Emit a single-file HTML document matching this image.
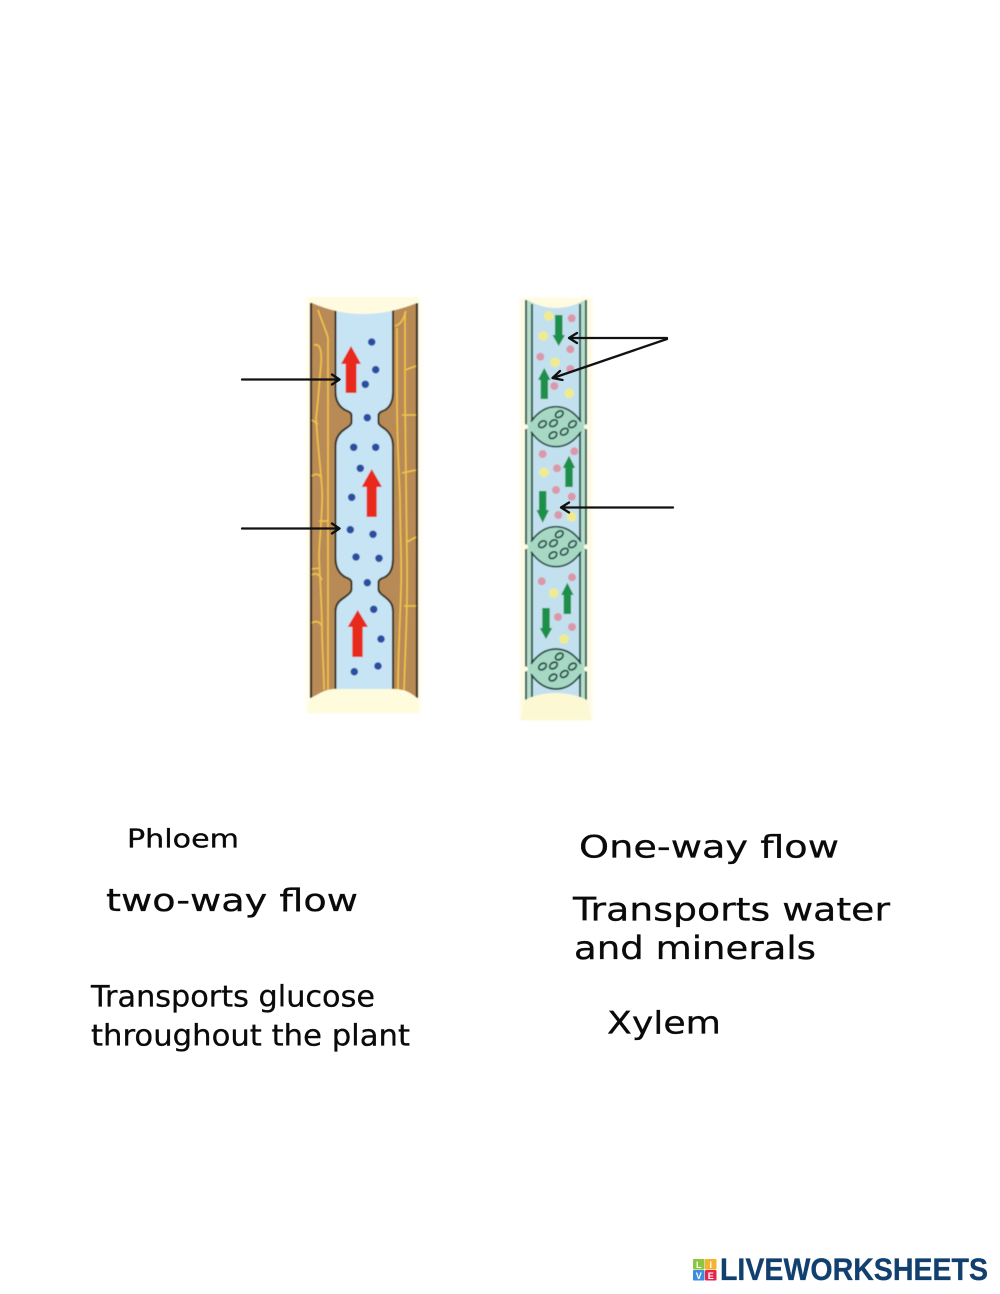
<!DOCTYPE html>
<html><head><meta charset="utf-8"><style>
html,body{margin:0;padding:0;background:#fff}
svg{display:block}
text{font-family:"DejaVu Sans","Liberation Sans",sans-serif;fill:#0a0a0a}
.l{stroke:#0a0a0a;stroke-width:.3px}
</style></head><body>
<svg width="1000" height="1294" viewBox="0 0 1000 1294" xmlns="http://www.w3.org/2000/svg">
<defs>
<filter id="b" x="-5%" y="-5%" width="110%" height="110%"><feGaussianBlur stdDeviation="0.45"/></filter>
<filter id="c" x="-10%" y="-10%" width="120%" height="120%"><feGaussianBlur stdDeviation="1.2"/></filter>
</defs>
<rect width="1000" height="1294" fill="#fff"/>

<!-- PHLOEM -->
<g filter="url(#b)">
<rect x="306" y="298" width="115" height="415" fill="#fffde9" filter="url(#c)"/>
<rect x="311" y="302" width="106" height="396" fill="#b88a55"/>
<path d="M335.500 306 V392 C335.500 402 340 407 345 410 C350 412 351.500 413 351.500 416 V422 C351.500 425 349 426 345 429 C339 433 335.500 438 335.500 446 V558 C335.500 569 340 574 345 577 C350 579 351.500 580 351.500 583 V589 C351.500 592 349 594 345 597 C339 601 335.500 604 335.500 612 V692 H393 V612 C393 604 390 601 385 597 C381 594 378.500 592 378.500 589 V583 C378.500 580 380 579 385 577 C390 574 393 569 393 558 V446 C393 438 390 433 385 429 C381 426 378.500 425 378.500 422 V416 C378.500 413 380 412 385 410 C390 407 393 402 393 392 V306 Z" fill="#c7e4f4" stroke="#2e2a22" stroke-width="2"/>
<path d="M311 303 V698 M417 303 V698" stroke="#33261a" stroke-width="2.200" fill="none"/>
<g fill="none" stroke="#f2c44c" stroke-width="1.600">
<path d="M314 345 C320 343 322 350 321 365 C319 385 318 405 316 418 C318 450 321 470 322 490 C323 510 320 530 319 555 C320 580 322 610 322 630 C322 650 324 670 324 690"/>
<path d="M318 310 C322 322 326 330 328 338 V690"/>
<path d="M312 420 L318 424 M312 476 C316 473 319 474 322 478 M312 575 C316 572 320 575 322 580"/>
<path d="M319 521 H328 M312 569 L320 568 M312 623 C316 620 320 622 322 626"/>
<path d="M397 328 V400 C397 440 399 470 400 500 C400 530 402 560 401 590 C400 620 398 660 398 690"/>
<path d="M405 312 V400 C406 440 406 500 407 560 C408 610 405 650 404 692"/>
<path d="M395 326 C401 325 404 318 406 311 M405 370 L416 366 M402 415 H416 M402 473 L416 470 M407 542 L416 537 M404 606 H416"/>
</g>
<path d="M312 303 Q362 325 417 303 L418 297 H306 Z" fill="#fffbe0"/>
<path d="M311 698 C322 692 326 689 336 689 H393 C404 689 410 692 417 698 L419 713 H307 Z" fill="#fffbdd"/>
<g fill="#2a4ea2">
<circle cx="371.700" cy="342" r="3.800"/><circle cx="375.700" cy="369.700" r="3.800"/><circle cx="365.300" cy="384.300" r="3.800"/><circle cx="367.300" cy="417.700" r="3.800"/><circle cx="353.700" cy="447.300" r="3.800"/><circle cx="375.700" cy="447.300" r="3.800"/><circle cx="360.300" cy="468.300" r="3.800"/><circle cx="351.700" cy="497.300" r="3.800"/><circle cx="350.300" cy="529.700" r="3.800"/><circle cx="373" cy="534.300" r="3.800"/><circle cx="356" cy="557" r="3.800"/><circle cx="379" cy="558.300" r="3.800"/><circle cx="367.300" cy="582.700" r="3.800"/><circle cx="373.700" cy="609.300" r="3.800"/><circle cx="381" cy="639" r="3.800"/><circle cx="378" cy="666" r="3.800"/><circle cx="354.300" cy="671.700" r="3.800"/>
</g>
<g fill="#e8291f">
<path d="M351 346 L361 364 H356.500 V393 H345.700 V364 H341 Z"/>
<path d="M371.700 469 L382 487 H376.700 V517 H366.700 V487 H361.700 Z"/>
<path d="M357.700 610 L368 627 H362.700 V657 H352.300 V627 H347.700 Z"/>
</g>
</g>

<!-- XYLEM -->
<g filter="url(#b)">
<rect x="520" y="298" width="72" height="422" fill="#fdfbe3" filter="url(#c)"/>
<rect x="526" y="300" width="60" height="402" fill="#b6dccb"/>
<rect x="532" y="304" width="48" height="396" fill="#c3e0ee"/>
<path d="M526 300 V702 M586 300 V702 M532 304 V700 M580 304 V700" stroke="#21594f" stroke-width="2" fill="none"/>
<path d="M527 300 Q556 316 585 300 L587 298 H522 Z" fill="#fffbe0"/>
<path d="M525 700 C535 695 545 693 556 693 C566 693 577 695 587 700 L592 720 H520 Z" fill="#fdf8d4"/>
<g fill="#f1eb90">
<circle cx="548.700" cy="316" r="4.800"/><circle cx="543.300" cy="336" r="4.800"/><circle cx="555" cy="362.300" r="4.800"/><circle cx="569.300" cy="393.300" r="4.800"/><circle cx="544" cy="472.300" r="4.800"/><circle cx="571.700" cy="516.700" r="4.800"/><circle cx="553.700" cy="593" r="4.800"/><circle cx="564" cy="639" r="4.800"/>
</g>
<g fill="#dc98ab">
<circle cx="571.700" cy="318.300" r="4"/><circle cx="570.300" cy="349.300" r="4"/><circle cx="540.300" cy="356.700" r="4"/><circle cx="570.300" cy="369" r="4"/><circle cx="554.300" cy="386" r="4"/><circle cx="542.700" cy="454" r="4"/><circle cx="574.300" cy="451.300" r="4"/><circle cx="557" cy="468.300" r="4"/><circle cx="556" cy="490" r="4"/><circle cx="571.700" cy="496.700" r="4"/><circle cx="558.300" cy="515" r="4"/><circle cx="541.700" cy="581.300" r="4"/><circle cx="572" cy="577.300" r="4"/><circle cx="558" cy="617" r="4"/><circle cx="572" cy="627" r="4"/>
</g>
<g fill="#1d8f4a">
<path d="M555 315 H562.500 V335 H565 L558.700 346 L552.500 335 H555 Z"/>
<path d="M544.300 368 L550.500 380 H548 V399 H540.700 V380 H538 Z"/>
<path d="M569 455.700 L575.200 468 H572.700 V487 H565.300 V468 H562.800 Z"/>
<path d="M539 491 H546.300 V510 H549 L542.700 522.700 L536.500 510 H539 Z"/>
<path d="M567.300 582.700 L573.500 595 H571 V614 H563.700 V595 H561.200 Z"/>
<path d="M542.300 608 H549.700 V628 H552.200 L546 639 L539.800 628 H542.300 Z"/>
</g>
<g fill="none" stroke="#17403a" stroke-width="1.700">
<g transform="translate(556 426.700)"><path d="M-28 0 C-20 -14 -11 -20 0 -20 C11 -20 20 -14 28 0 C20 14 11 20 0 20 C-11 20 -20 14 -28 0 Z" fill="#a6d8c4" stroke="none"/><path d="M-25 -5 C-18 -15 -10 -20 0 -20 C10 -20 18 -15 25 -5 M-25 5 C-18 15 -10 20 0 20 C10 20 18 15 25 5"/><ellipse cx="3.300" cy="-12.500" rx="4.200" ry="2.900" transform="rotate(-35 3.300 -12.500)"/><ellipse cx="-13.500" cy="-2.500" rx="4.200" ry="2.900" transform="rotate(-35 -13.500 -2.500)"/><ellipse cx="-2.500" cy="-3.500" rx="4.200" ry="2.900" transform="rotate(-35 -2.500 -3.500)"/><ellipse cx="16.500" cy="-2.500" rx="4.200" ry="2.900" transform="rotate(-35 16.500 -2.500)"/><ellipse cx="8.300" cy="5" rx="4.200" ry="2.900" transform="rotate(-35 8.300 5)"/><ellipse cx="-3" cy="8.500" rx="4.200" ry="2.900" transform="rotate(-35 -3 8.500)"/></g>
<g transform="translate(556 546.700)"><path d="M-28 0 C-20 -14 -11 -20 0 -20 C11 -20 20 -14 28 0 C20 14 11 20 0 20 C-11 20 -20 14 -28 0 Z" fill="#a6d8c4" stroke="none"/><path d="M-25 -5 C-18 -15 -10 -20 0 -20 C10 -20 18 -15 25 -5 M-25 5 C-18 15 -10 20 0 20 C10 20 18 15 25 5"/><ellipse cx="3.300" cy="-12.500" rx="4.200" ry="2.900" transform="rotate(-35 3.300 -12.500)"/><ellipse cx="-13.500" cy="-2.500" rx="4.200" ry="2.900" transform="rotate(-35 -13.500 -2.500)"/><ellipse cx="-2.500" cy="-3.500" rx="4.200" ry="2.900" transform="rotate(-35 -2.500 -3.500)"/><ellipse cx="16.500" cy="-2.500" rx="4.200" ry="2.900" transform="rotate(-35 16.500 -2.500)"/><ellipse cx="8.300" cy="5" rx="4.200" ry="2.900" transform="rotate(-35 8.300 5)"/><ellipse cx="-3" cy="8.500" rx="4.200" ry="2.900" transform="rotate(-35 -3 8.500)"/></g>
<g transform="translate(556 669)"><path d="M-28 0 C-20 -14 -11 -20 0 -20 C11 -20 20 -14 28 0 C20 14 11 20 0 20 C-11 20 -20 14 -28 0 Z" fill="#a6d8c4" stroke="none"/><path d="M-25 -5 C-18 -15 -10 -20 0 -20 C10 -20 18 -15 25 -5 M-25 5 C-18 15 -10 20 0 20 C10 20 18 15 25 5"/><ellipse cx="3.300" cy="-12.500" rx="4.200" ry="2.900" transform="rotate(-35 3.300 -12.500)"/><ellipse cx="-13.500" cy="-2.500" rx="4.200" ry="2.900" transform="rotate(-35 -13.500 -2.500)"/><ellipse cx="-2.500" cy="-3.500" rx="4.200" ry="2.900" transform="rotate(-35 -2.500 -3.500)"/><ellipse cx="16.500" cy="-2.500" rx="4.200" ry="2.900" transform="rotate(-35 16.500 -2.500)"/><ellipse cx="8.300" cy="5" rx="4.200" ry="2.900" transform="rotate(-35 8.300 5)"/><ellipse cx="-3" cy="8.500" rx="4.200" ry="2.900" transform="rotate(-35 -3 8.500)"/></g>
</g>
<g fill="#fdfbe3">
<circle cx="525.500" cy="426.700" r="2.500"/><circle cx="586.500" cy="426.700" r="2.500"/><circle cx="525.500" cy="546.700" r="2.500"/><circle cx="586.500" cy="546.700" r="2.500"/><circle cx="525.500" cy="669" r="2.500"/><circle cx="586.500" cy="669" r="2.500"/>
</g>
</g>

<!-- Pointer arrows -->
<g fill="none" stroke="#111" stroke-width="2.300" stroke-linecap="round" stroke-linejoin="round">
<path d="M242 379.500 H339 M332 374.500 L339.500 379.500 L332 384.500"/>
<path d="M242 528.500 H339 M332 523.500 L339.500 528.500 L332 533.500"/>
<path d="M667 338 H570 M577 333 L569 338 L577 343"/>
<path d="M667 339 L553 378 M560 371 L552.500 378 L562.500 380"/>
<path d="M673 507.500 H562 M569 502.500 L561 507.500 L569 512.500"/>
</g>

<!-- Labels -->
<text class="l" x="127" y="847.700" font-size="25.500" textLength="112" lengthAdjust="spacingAndGlyphs">Phloem</text>
<text class="l" x="106" y="911" font-size="31" textLength="252" lengthAdjust="spacingAndGlyphs">two-way flow</text>
<text class="l" x="91" y="1006.700" font-size="29.500" textLength="284" lengthAdjust="spacingAndGlyphs">Transports glucose</text>
<text class="l" x="91" y="1045.700" font-size="29.500" textLength="319" lengthAdjust="spacingAndGlyphs">throughout the plant</text>
<text class="l" x="579" y="857.300" font-size="31.500" textLength="260" lengthAdjust="spacingAndGlyphs">One-way flow</text>
<text class="l" x="573" y="920.700" font-size="32" textLength="317" lengthAdjust="spacingAndGlyphs">Transports water</text>
<text class="l" x="574" y="959" font-size="32" textLength="242" lengthAdjust="spacingAndGlyphs">and minerals</text>
<text class="l" x="607" y="1033.300" font-size="31.500" textLength="114" lengthAdjust="spacingAndGlyphs">Xylem</text>

<!-- Logo -->
<rect x="693" y="1259" width="11.500" height="10.500" rx="1" fill="#8cc63f"/>
<rect x="705" y="1259" width="11.500" height="10.500" rx="1" fill="#f5b32e"/>
<rect x="693" y="1270" width="11.500" height="10.500" rx="1" fill="#3b8ede"/>
<rect x="705" y="1270" width="11.500" height="10.500" rx="1" fill="#e5254b"/>
<g text-anchor="middle" font-size="9">
<text x="698.700" y="1268" style="fill:#fff;font-weight:bold;font-family:'Liberation Sans',sans-serif">L</text>
<text x="710.700" y="1268" style="fill:#fff;font-weight:bold;font-family:'Liberation Sans',sans-serif">I</text>
<text x="698.700" y="1279" style="fill:#fff;font-weight:bold;font-family:'Liberation Sans',sans-serif">V</text>
<text x="710.700" y="1279" style="fill:#fff;font-weight:bold;font-family:'Liberation Sans',sans-serif">E</text>
</g>
<text x="720" y="1280" font-size="31.500" textLength="268" lengthAdjust="spacingAndGlyphs" stroke="#12406e" stroke-width="0.3" style="fill:#12406e;font-weight:bold;font-family:'Liberation Sans',sans-serif">LIVEWORKSHEETS</text>
</svg>
</body></html>
